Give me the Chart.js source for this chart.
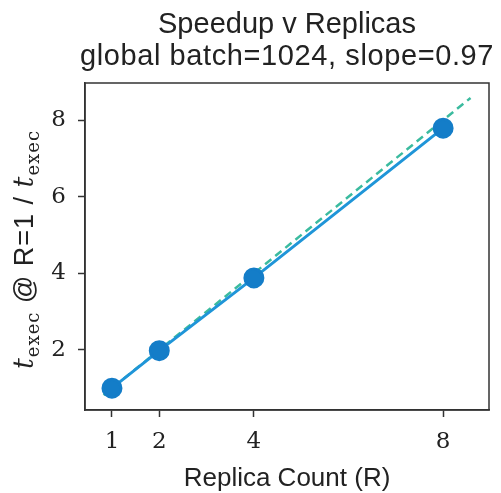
<!DOCTYPE html>
<html>
<head>
<meta charset="utf-8">
<script src="https://cdn.jsdelivr.net/npm/chart.js@4.4.0/dist/chart.umd.min.js"></script>
<style>
  html, body { margin: 0; padding: 0; background: #fff; }
  #wrap { width: 501px; height: 493px; }
</style>
</head>
<body>
<div id="wrap"><canvas id="myChart"></canvas></div>
<script>
// data
var replicas = [1, 2, 4, 8];
var speedup = [1.0, 1.98, 3.88, 7.79];
var idealX = [0.82, 8.58];
var xTicks = [1, 2, 4, 8];
var yTicks = [2, 4, 6, 8];
var titleLines = ['Speedup v Replicas', 'global batch=1024, slope=0.97'];
var xLabel = 'Replica Count (R)';

var frameColor = '#333';
var sansFont = '"Liberation Sans", Arial, sans-serif';
var serifFont = '"DejaVu Serif", serif';

var pointData = replicas.map(function(r, i) { return { x: r, y: speedup[i] }; });
var idealData = idealX.map(function(v) { return { x: v, y: v }; });

// titles, axis label and the box round the plot
var textPlugin = {
  id: 'textPlugin',
  afterDraw: function(chart) {
    var c = chart.ctx;
    var a = chart.chartArea;
    var cx = (a.left + a.right) / 2;
    c.save();
    c.strokeStyle = frameColor;
    c.lineWidth = 1.5;
    c.strokeRect(a.left, a.top, a.right - a.left, a.bottom - a.top);

    c.fillStyle = '#222';
    c.textAlign = 'center';
    c.textBaseline = 'alphabetic';
    c.font = '29px ' + sansFont;
    c.fillText(titleLines[0], cx, 33);
    c.letterSpacing = '0.6px';
    c.fillText(titleLines[1], cx, 65);
    c.letterSpacing = '0px';
    c.font = '26px ' + sansFont;
    c.fillText(xLabel, cx, 486);

    // y label with subscripts
    var parts = [
      { t: 't', f: 'italic 27px ' + serifFont, dy: 0 },
      { t: 'exec', f: '18px ' + serifFont, dy: 6 },
      { t: ' @ R=1 / ', f: '27px ' + sansFont, dy: 0 },
      { t: 't', f: 'italic 27px ' + serifFont, dy: 0 },
      { t: 'exec', f: '18px ' + serifFont, dy: 6 }
    ];
    c.letterSpacing = '1px';
    var total = 0;
    parts.forEach(function(p) { c.font = p.f; p.w = c.measureText(p.t).width; total += p.w; });
    c.translate(33, (a.top + a.bottom) / 2 + 3);
    c.rotate(-Math.PI / 2);
    c.textAlign = 'left';
    var x = -total / 2;
    parts.forEach(function(p) { c.font = p.f; c.fillText(p.t, x, p.dy); x += p.w; });
    c.restore();
  }
};

var ctx = document.getElementById('myChart').getContext('2d');
var myChart = new Chart(ctx, {
  type: 'scatter',
  data: {
    datasets: [{
      label: 'ideal',
      data: idealData,
      showLine: true,
      borderColor: '#3bbb9f',
      borderWidth: 2.5,
      borderDash: [8, 5],
      pointRadius: 0,
      order: 2
    }, {
      label: 'speedup',
      data: pointData,
      showLine: true,
      borderColor: '#1f95d8',
      borderWidth: 3,
      backgroundColor: '#147dc8',
      pointBorderColor: '#147dc8',
      pointRadius: 9,
      pointHoverRadius: 9,
      order: 1
    }]
  },
  options: {
    responsive: true,
    maintainAspectRatio: false,
    animation: false,
    layout: { padding: { left: 0, top: 83, right: 12, bottom: 0 } },
    plugins: {
      legend: { display: false },
      tooltip: { enabled: false }
    },
    scales: {
      x: {
        type: 'linear',
        min: 0.43,
        max: 8.97,
        afterBuildTicks: function(s) { s.ticks = xTicks.map(function(v) { return { value: v }; }); },
        afterFit: function(s) { s.height = 83; },
        grid: { drawOnChartArea: false, drawTicks: true, tickLength: 7, tickWidth: 1.5, tickColor: frameColor },
        border: { display: true, color: frameColor, width: 1.5 },
        ticks: { autoSkip: false, maxRotation: 0, padding: 11, color: '#222', font: { family: serifFont, size: 23 } }
      },
      y: {
        type: 'linear',
        min: 0.43,
        max: 8.97,
        afterBuildTicks: function(s) { s.ticks = yTicks.map(function(v) { return { value: v }; }); },
        afterFit: function(s) { s.width = 85; },
        grid: { drawOnChartArea: false, drawTicks: true, tickLength: 7, tickWidth: 1.5, tickColor: frameColor },
        border: { display: true, color: frameColor, width: 1.5 },
        ticks: { autoSkip: false, padding: 12, color: '#222', font: { family: serifFont, size: 23 } }
      }
    }
  },
  plugins: [textPlugin]
});
</script>
</body>
</html>
